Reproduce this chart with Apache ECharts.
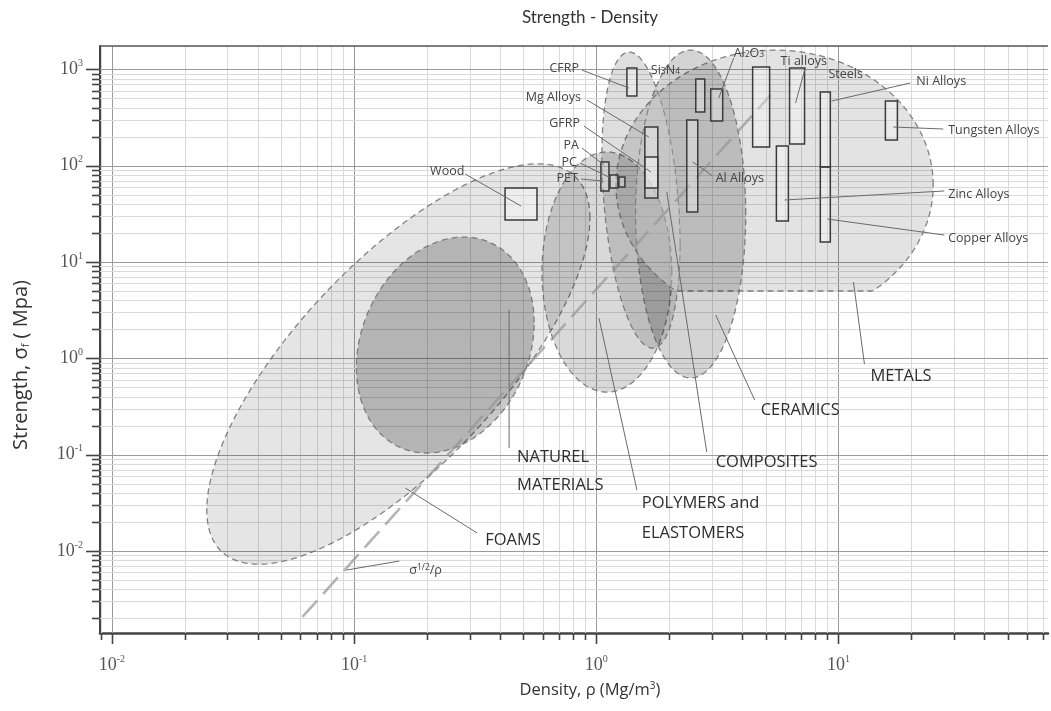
<!DOCTYPE html>
<html><head><meta charset="utf-8">
<script src="https://cdn.jsdelivr.net/npm/echarts@6/dist/echarts.min.js"></script>
<style>html,body{margin:0;padding:0;background:#fff}#c{width:1051px;height:711px}</style>
</head><body><div id="c"></div>
<script>
// ---------- axis ranges and tick labels ----------
const densityRange = [0.00893, 73.3];
const strengthRange = [0.00141, 1746];
const densityTickExponents = [-2, -1, 0, 1];
const strengthTickExponents = [-2, -1, 0, 1, 2, 3];

// ---------- material-class envelopes (log-space ellipses) ----------
const envelopeNames = ['FOAMS', 'NATUREL MATERIALS', 'POLYMERS and ELASTOMERS', 'METALS', 'CERAMICS', 'COMPOSITES'];
const envCenterDensity = [0.1523, 0.2379, 1.106, 5.447, 2.455, 1.528];
const envCenterStrength = [0.873, 1.374, 7.87, 62.95, 31.48, 43.95];
const envHalfDecadesDensity = [0.791, 0.367, 0.268, 0.655, 0.227, 0.161];
const envHalfDecadesStrength = [2.078, 1.121, 1.246, 1.401, 1.702, 1.536];
const envCorrelation = [0.729, 0.208, 0, 0, 0, -0.3];
const envFloorStrength = [null, null, null, 5, null, null];

// ---------- individual materials (boxes) ----------
const materialNames = ['CFRP', 'Si3N4', 'Al2O3', 'Mg Alloys', 'GFRP', 'Al Alloys', 'Ti alloys', 'Steels',
  'Zinc Alloys', 'Ni Alloys', 'Copper Alloys', 'Tungsten Alloys', 'PA', 'PC', 'PET', 'Wood'];
const densityMin = [1.338, 2.575, 2.969, 1.587, 1.587, 2.364, 4.421, 6.282, 5.542, 8.414, 8.414, 15.62, 1.045, 1.139, 1.240, 0.420];
const densityMax = [1.471, 2.805, 3.326, 1.795, 1.795, 2.624, 5.196, 7.243, 6.211, 9.253, 9.253, 17.51, 1.128, 1.228, 1.313, 0.569];
const strengthMin = [528, 360, 291, 46.1, 58.6, 33.0, 156, 168, 26.6, 96.8, 16.1, 184.5, 54.6, 58.6, 60.0, 27.3];
const strengthMax = [1031, 793, 624, 252, 122.9, 298, 1056, 1031, 160, 581, 96.8, 468.8, 109.1, 80.0, 76.2, 58.6];

// ---------- guide line sigma^(1/2)/rho ----------
const guideDensity = [0.0612, 5.245];
const guideStrength = [0.00207, 541];

// ---------- annotations ----------
const labelTexts = ['Wood', 'CFRP', 'Si{sub|3}N{sub|4}', 'Mg Alloys', 'GFRP', 'PA', 'PC', 'PET', 'Al Alloys',
  'Al{sub|2}O{sub|3}', 'Ti alloys', 'Steels', 'Ni Alloys', 'Tungsten Alloys', 'Zinc Alloys', 'Copper Alloys',
  'METALS', 'CERAMICS', 'COMPOSITES', 'POLYMERS and', 'ELASTOMERS', 'NATUREL', 'MATERIALS', 'FOAMS', 'σ{sup|1/2}/ρ'];
const labelDensity = [0.2424, 0.848, 1.680, 0.8647, 0.8563, 0.848, 0.8323, 0.840, 3.112,
  3.692, 5.768, 9.094, 20.96, 28.39, 28.39, 28.39,
  13.55, 4.771, 3.112, 1.542, 1.542, 0.4710, 0.4710, 0.3477, 0.169];
const labelStrength = [88.0, 1031, 983, 515.9, 277, 163.8, 109.1, 74.4, 74.4,
  1476, 1220, 893.9, 756.2, 234.4, 50.77, 17.74,
  0.6553, 0.2908, 0.0839, 0.03149, 0.01538, 0.09456, 0.04843, 0.0130, 0.00635];
const labelAnchor = ['center', 'right', 'left', 'right', 'right', 'right', 'right', 'right', 'left',
  'left', 'left', 'left', 'left', 'left', 'left', 'left',
  'left', 'left', 'left', 'left', 'left', 'left', 'left', 'left', 'left'];
const labelIsClass = labelTexts.map((t, i) => i >= 16 && i <= 23);

const leaderFromDensity = [0.2876, 0.873, 0.915, 0.889, 0.873, 0.856, 0.865, 3.025, 3.692, 7.311, 19.8, 27.08, 27.35, 27.35, 12.8, 4.507, 2.858, 1.471, 0.4366, 0.3224, 0.1537];
const leaderFromStrength = [81.9, 983, 480, 257.9, 152.4, 106.5, 72.6, 78.1, 1310, 1056, 721, 240.1, 54.6, 19.05, 0.873, 0.3694, 0.1066, 0.04297, 3.174, 0.01538, 0.00787];
const leaderToDensity = [0.4892, 1.363, 1.648, 1.680, 1.0755, 1.149, 1.065, 2.502, 3.203, 6.649, 9.357, 16.85, 5.99, 9.008, 11.53, 3.112, 1.955, 1.0257, 0.4366, 0.1627, 0.0930];
const leaderToStrength = [38.1, 639.5, 198.3, 85.9, 101.5, 74.4, 69.3, 109.1, 503.6, 446.9, 468.8, 251.8, 44.0, 27.93, 6.2, 2.817, 53.25, 2.621, 0.1173, 0.04508, 0.00635];

// ---------- styles ----------
const SANS = 'Lato, "Open Sans", sans-serif';
const ANN = '"Open Sans", Lato, sans-serif';
const SERIF = '"Liberation Serif", "DejaVu Serif", serif';
const envFill = ['rgba(0,0,0,0.10)', 'rgba(0,0,0,0.21)', 'rgba(0,0,0,0.15)', 'rgba(0,0,0,0.11)', 'rgba(0,0,0,0.17)', 'rgba(0,0,0,0.13)'];

const lg = Math.log10;
function envelopePixels(i, api) {
  const cx = lg(envCenterDensity[i]), cy = lg(envCenterStrength[i]);
  const w = envHalfDecadesDensity[i], h = envHalfDecadesStrength[i], r = envCorrelation[i];
  const q = Math.sqrt(1 - r * r);
  const floor = envFloorStrength[i] != null ? lg(envFloorStrength[i]) : -Infinity;
  const pts = [];
  const N = 200;
  for (let k = 0; k < N; k++) {
    const t = k / N * 2 * Math.PI;
    const lx = cx + w * Math.cos(t);
    const ly = Math.max(floor, cy + h * (r * Math.cos(t) + q * Math.sin(t)));
    pts.push(api.coord([Math.pow(10, lx), Math.pow(10, ly)]));
  }
  return pts;
}
function clipConvex(subject, clipper) {
  let area = 0;
  for (let i = 0; i < clipper.length; i++) {
    const a = clipper[i], b = clipper[(i + 1) % clipper.length];
    area += a[0] * b[1] - b[0] * a[1];
  }
  const s = Math.sign(area);
  let out = subject;
  for (let i = 0; i < clipper.length; i++) {
    const A = clipper[i], B = clipper[(i + 1) % clipper.length];
    if (Math.abs(A[0] - B[0]) + Math.abs(A[1] - B[1]) < 1e-9) continue;
    const inp = out; out = [];
    if (!inp.length) break;
    const inside = p => s * ((B[0] - A[0]) * (p[1] - A[1]) - (B[1] - A[1]) * (p[0] - A[0])) >= 0;
    for (let j = 0; j < inp.length; j++) {
      const P = inp[j], Q = inp[(j + 1) % inp.length];
      const pin = inside(P), qin = inside(Q);
      if (pin) out.push(P);
      if (pin !== qin) {
        const d1x = Q[0] - P[0], d1y = Q[1] - P[1], d2x = B[0] - A[0], d2y = B[1] - A[1];
        const den = d1x * d2y - d1y * d2x;
        const t = ((A[0] - P[0]) * d2y - (A[1] - P[1]) * d2x) / den;
        out.push([P[0] + t * d1x, P[1] + t * d1y]);
      }
    }
  }
  return out;
}

const chart = echarts.init(document.getElementById('c'), null, { renderer: 'canvas' });

function expLabel(v) {
  const e = Math.round(lg(v));
  if (Math.abs(lg(v) - e) > 1e-6) return '';
  return '{b|10}{s|' + e + '}';
}
const labelRich = {
  b: { fontFamily: SERIF, fontSize: 18, color: '#555', lineHeight: 22 },
  s: { fontFamily: SERIF, fontSize: 10, color: '#555', lineHeight: 10, verticalAlign: 'top' }
};

const option = {
  animation: false,
  backgroundColor: '#ffffff',
  grid: { left: 100, top: 46, right: 1, bottom: 78, containLabel: false },
  xAxis: {
    type: 'log', logBase: 10, min: densityRange[0], max: densityRange[1],
    axisLine: { show: true, lineStyle: { color: '#444', width: 2.5 } },
    axisTick: { show: false }, splitLine: { show: false }, minorTick: { show: false },
    axisLabel: { margin: 21, formatter: expLabel, rich: labelRich, color: '#555' }
  },
  yAxis: {
    type: 'log', logBase: 10, min: strengthRange[0], max: strengthRange[1],
    axisLine: { show: true, lineStyle: { color: '#444', width: 2 } },
    axisTick: { show: false }, splitLine: { show: false }, minorTick: { show: false },
    axisLabel: { margin: 17, formatter: expLabel, rich: labelRich, color: '#555' }
  },
  graphic: [
    { type: 'text', x: 590, y: 18, z: 100, style: { text: 'Strength - Density', font: '17px ' + SANS, fill: '#333', align: 'center', verticalAlign: 'middle' } },
    { type: 'text', x: 590, y: 690, z: 100, style: { text: 'Density, ρ (Mg/m{sup|3})', font: '16.5px ' + ANN, fill: '#333', align: 'center', verticalAlign: 'middle',
      rich: { sup: { fontSize: 10, verticalAlign: 'top', lineHeight: 10, fill: '#333', fontFamily: ANN } } } },
    { type: 'text', x: 21, y: 365, rotation: Math.PI / 2, z: 100, style: { text: 'Strength, σ{sub|f} ( Mpa)', font: '20px ' + ANN, fill: '#333', align: 'center', verticalAlign: 'middle',
      rich: { sub: { fontSize: 11, verticalAlign: 'bottom', lineHeight: 11, fill: '#333', fontFamily: ANN } } } }
  ],
  series: [
    { // grid lines and ticks
      type: 'custom', coordinateSystem: 'cartesian2d', silent: true, clip: false, z: 1,
      data: [[1, 1]],
      renderItem: function (params, api) {
        const cs = params.coordSys;
        const x0 = cs.x, y0 = cs.y, x1 = cs.x + cs.width, y1 = cs.y + cs.height;
        const ch = [];
        for (let e = -3; e <= 2; e++) for (let k = 1; k <= 9; k++) {
          const v = k * Math.pow(10, e);
          if (v < densityRange[0] || v > densityRange[1]) continue;
          const px = Math.round(api.coord([v, 1])[0]) + 0.5;
          ch.push({ type: 'line', shape: { x1: px, y1: y0, x2: px, y2: y1 }, style: { stroke: k === 1 ? '#9a9a9a' : '#dadada', lineWidth: 1 } });
          ch.push({ type: 'line', shape: { x1: px, y1: y1, x2: px, y2: y1 + (k === 1 ? 11 : 7) }, style: { stroke: '#444', lineWidth: 1.6 } });
        }
        for (let e = -3; e <= 3; e++) for (let k = 1; k <= 9; k++) {
          const v = k * Math.pow(10, e);
          if (v < strengthRange[0] || v > strengthRange[1]) continue;
          const py = Math.round(api.coord([1, v])[1]) + 0.5;
          ch.push({ type: 'line', shape: { x1: x0, y1: py, x2: x1, y2: py }, style: { stroke: k === 1 ? '#9a9a9a' : '#dadada', lineWidth: 1 } });
          ch.push({ type: 'line', shape: { x1: x0 - (k === 1 ? 14 : 8), y1: py, x2: x0, y2: py }, style: { stroke: '#444', lineWidth: 1.6 } });
        }
        ch.push({ type: 'line', shape: { x1: x0, y1: y0, x2: x1, y2: y0 }, style: { stroke: '#555', lineWidth: 1.5 } });
        return { type: 'group', children: ch };
      }
    },
    { // material class envelopes
      type: 'custom', coordinateSystem: 'cartesian2d', silent: true, clip: true, z: 2,
      data: envelopeNames.map((n, i) => [envCenterDensity[i], envCenterStrength[i]]),
      renderItem: function (params, api) {
        const i = params.dataIndex;
        return { type: 'polygon', shape: { points: envelopePixels(i, api) },
          style: { fill: envFill[i], stroke: 'rgba(110,110,110,0.85)', lineWidth: 1.3, lineDash: [6, 4] } };
      }
    },
    { // overlap of ceramics, composites and metals shows lighter
      type: 'custom', coordinateSystem: 'cartesian2d', silent: true, clip: true, z: 3,
      data: [[1, 1]],
      renderItem: function (params, api) {
        let poly = clipConvex(envelopePixels(4, api), envelopePixels(5, api));
        poly = clipConvex(poly, envelopePixels(3, api));
        if (poly.length < 3) return null;
        return { type: 'polygon', shape: { points: poly }, style: { fill: 'rgba(255,255,255,0.38)' } };
      }
    },
    { // guide line
      type: 'custom', coordinateSystem: 'cartesian2d', silent: true, clip: true, z: 4,
      data: [[guideDensity[0], guideStrength[0]]],
      renderItem: function (params, api) {
        const a = api.coord([guideDensity[0], guideStrength[0]]);
        const b = api.coord([guideDensity[1], guideStrength[1]]);
        return { type: 'line', shape: { x1: a[0], y1: a[1], x2: b[0], y2: b[1] },
          style: { stroke: 'rgba(150,150,150,0.7)', lineWidth: 2.6, lineDash: [22, 9] } };
      }
    },
    { // material boxes
      type: 'custom', coordinateSystem: 'cartesian2d', silent: true, clip: true, z: 5,
      data: materialNames.map((n, i) => [densityMin[i], strengthMin[i], densityMax[i], strengthMax[i]]),
      renderItem: function (params, api) {
        const p0 = api.coord([api.value(0), api.value(3)]);
        const p1 = api.coord([api.value(2), api.value(1)]);
        return { type: 'rect', shape: { x: p0[0], y: p0[1], width: p1[0] - p0[0], height: p1[1] - p0[1] },
          style: { fill: 'rgba(255,255,255,0.3)', stroke: '#3a3a3a', lineWidth: 1.5 } };
      }
    },
    { // leader lines
      type: 'custom', coordinateSystem: 'cartesian2d', silent: true, clip: false, z: 6,
      data: leaderFromDensity.map((d, i) => [d, leaderFromStrength[i], leaderToDensity[i], leaderToStrength[i]]),
      renderItem: function (params, api) {
        const a = api.coord([api.value(0), api.value(1)]);
        const b = api.coord([api.value(2), api.value(3)]);
        return { type: 'line', shape: { x1: a[0], y1: a[1], x2: b[0], y2: b[1] }, style: { stroke: '#6a6a6a', lineWidth: 1 } };
      }
    },
    { // labels
      type: 'custom', coordinateSystem: 'cartesian2d', silent: true, clip: false, z: 7,
      data: labelTexts.map((t, i) => [labelDensity[i], labelStrength[i]]),
      renderItem: function (params, api) {
        const i = params.dataIndex;
        const p = api.coord([api.value(0), api.value(1)]);
        const big = labelIsClass[i];
        const fs = big ? 16.5 : 12.5;
        return { type: 'text', x: p[0], y: p[1],
          style: { text: labelTexts[i], fontSize: fs, fontFamily: ANN, fill: big ? '#2e2e2e' : '#444',
            align: labelAnchor[i], verticalAlign: 'middle', textAlign: labelAnchor[i], textVerticalAlign: 'middle',
            rich: {
              sub: { fontSize: 8.5, fontFamily: ANN, fill: '#444', verticalAlign: 'bottom', lineHeight: 8 },
              sup: { fontSize: 8.5, fontFamily: ANN, fill: '#444', verticalAlign: 'top', lineHeight: 8 }
            } } };
      }
    }
  ]
};
chart.setOption(option);
</script>
</body></html>
